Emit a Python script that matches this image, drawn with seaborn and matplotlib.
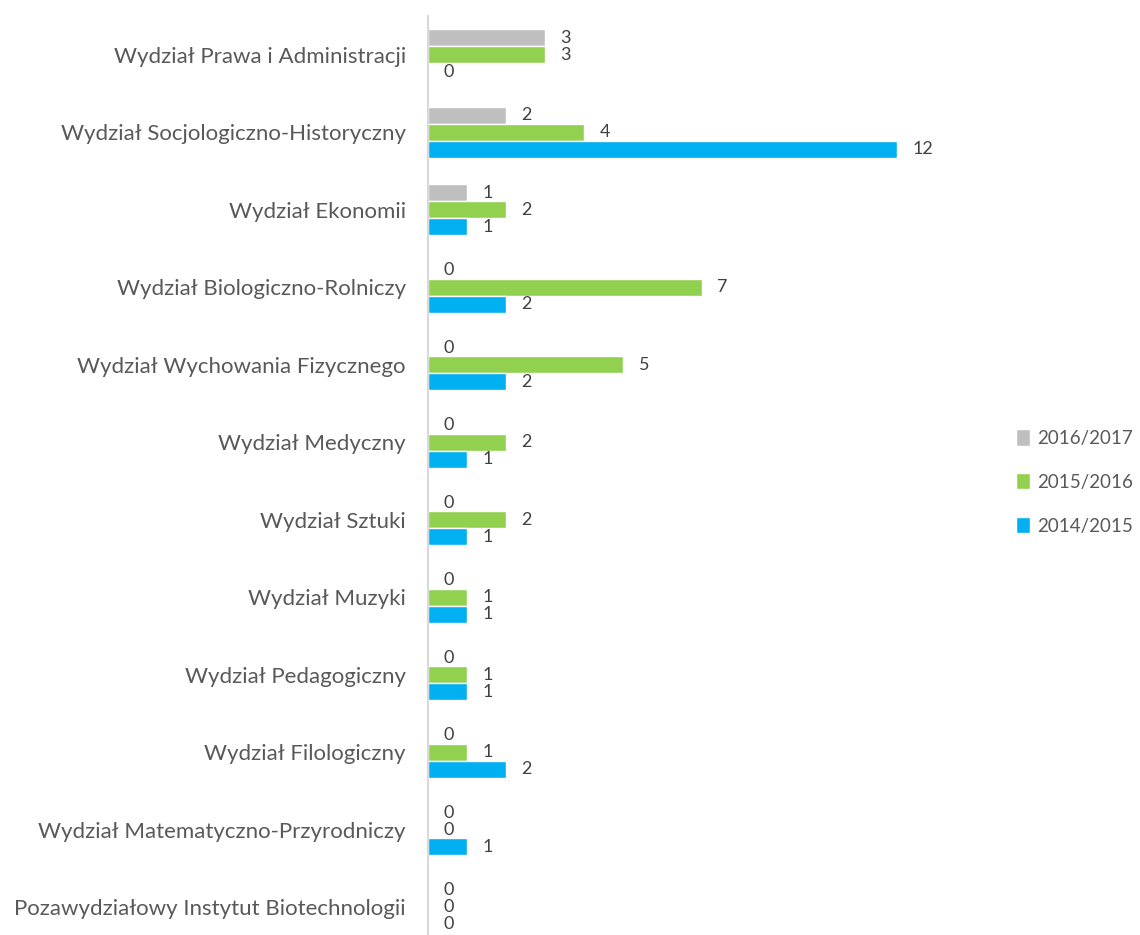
import matplotlib
matplotlib.use("Agg")
import matplotlib.pyplot as plt
import seaborn as sns
import pandas as pd

categories = [
    "Wydział Prawa i Administracji",
    "Wydział Socjologiczno-Historyczny",
    "Wydział Ekonomii",
    "Wydział Biologiczno-Rolniczy",
    "Wydział Wychowania Fizycznego",
    "Wydział Medyczny",
    "Wydział Sztuki",
    "Wydział Muzyki",
    "Wydział Pedagogiczny",
    "Wydział Filologiczny",
    "Wydział Matematyczno-Przyrodniczy",
    "Pozawydziałowy Instytut Biotechnologii",
]
series_names = ["2016/2017", "2015/2016", "2014/2015"]
v_2016_2017 = [3, 2, 1, 0, 0, 0, 0, 0, 0, 0, 0, 0]
v_2015_2016 = [3, 4, 2, 7, 5, 2, 2, 1, 1, 1, 0, 0]
v_2014_2015 = [0, 12, 1, 2, 2, 1, 1, 1, 1, 2, 1, 0]
colors = ["#bfbfbf", "#92d050", "#00b0f0"]

rows = []
for name, vals in zip(series_names, [v_2016_2017, v_2015_2016, v_2014_2015]):
    for c, v in zip(categories, vals):
        rows.append({"cat": c, "series": name, "value": v})
df = pd.DataFrame(rows)

sns.set_style("white")
plt.rcParams["font.family"] = ["Lato", "DejaVu Sans"]

fig = plt.figure(figsize=(11.40, 9.35), dpi=100)
ax = fig.add_axes([428 / 1140, -11 / 935, (975 - 428) / 1140, 930 / 935])

sns.barplot(data=df, y="cat", x="value", hue="series", order=categories,
            hue_order=series_names, palette=colors, orient="h", width=0.66,
            saturation=1, ax=ax, legend=True, errorbar=None)

for cont in ax.containers:
    ax.bar_label(cont, labels=[f"{int(b.get_width())}" for b in cont],
                 padding=11, fontsize=13, color="#404040")

ax.set_xlim(0, 14)
ax.set_ylim(11.5, -0.5)
ax.set_xlabel("")
ax.set_ylabel("")
ax.set_xticks([])
ax.tick_params(axis="y", length=0, pad=16, labelsize=16, labelcolor="#595959")
for s in ["top", "right", "bottom"]:
    ax.spines[s].set_visible(False)
ax.spines["left"].set_color("#d9d9d9")
ax.spines["left"].set_linewidth(1.5)

handles, labels = ax.get_legend_handles_labels()
ax.legend(handles, labels, loc="center left", bbox_to_anchor=(1016 / 1140, 1 - 482 / 935),
          bbox_transform=fig.transFigure, frameon=False, fontsize=13.5,
          borderaxespad=0, borderpad=0,
          handlelength=0.75, handleheight=0.95, handletextpad=0.4,
          labelspacing=1.4, labelcolor="#595959")

fig.savefig("out.png", dpi=100)
